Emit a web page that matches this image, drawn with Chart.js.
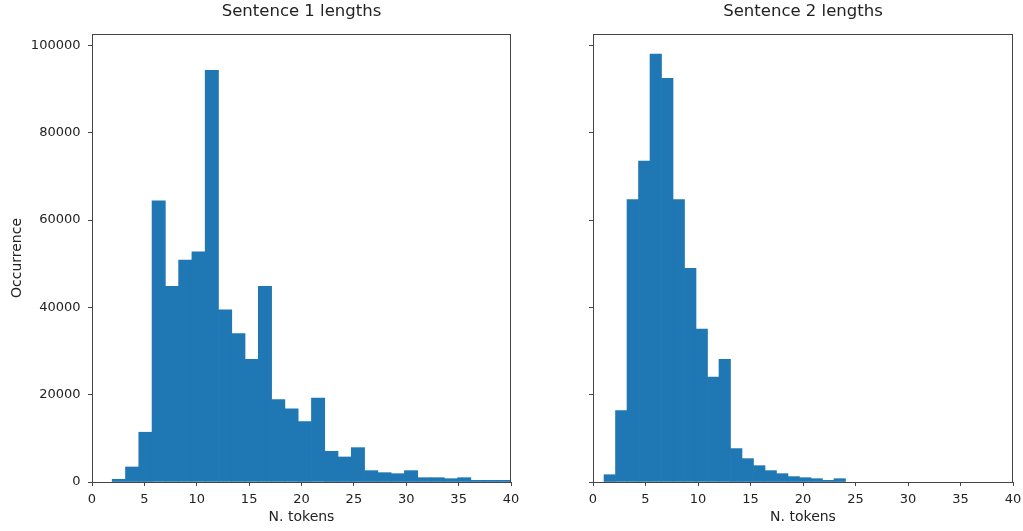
<!DOCTYPE html>
<html>
<head>
<meta charset="utf-8">
<script src="https://cdn.jsdelivr.net/npm/chart.js@4.4.1/dist/chart.umd.min.js"></script>
<style>
  body { margin: 0; background: #fff; }
  #wrap { position: relative; width: 1023px; height: 531px; }
  canvas { position: absolute; top: 0; }
</style>
</head>
<body>
<div id="wrap">
  <canvas id="sentence1" width="520" height="531" style="left:0"></canvas>
  <canvas id="sentence2" width="503" height="531" style="left:520px"></canvas>
</div>
<script>
// histogram bins
const sentence1BinStart = 1.93;
const sentence1BinWidth = 1.268;
const sentence1Counts = [
  620, 3440, 11400, 64400, 44800, 50800, 52700, 94300, 39450, 34000,
  28070, 44800, 18900, 16750, 13840, 19200, 7030, 5730, 7870, 2600,
  2140, 1910, 2600, 990, 990, 760, 990, 380, 380, 380,
];

const sentence2BinStart = 1.05;
const sentence2BinWidth = 1.095;
const sentence2Counts = [
  1670, 16370, 64700, 73500, 98000, 92450, 64700, 48950, 35020, 24010,
  28070, 7650, 5350, 3740, 2600, 1910, 1230, 990, 760, 380, 760,
];

const xTicks = [0, 5, 10, 15, 20, 25, 30, 35, 40];
const yTicks = [0, 20000, 40000, 60000, 80000, 100000];
const yMax = 102600;

const FONT = "'DejaVu Sans', sans-serif";
const TEXT = "#222";
const SPINE = "#444";
const BAR = "#1f77b4";

function toBins(start, width, counts) {
  return counts.map((count, i) => ({ x: start + width * (i + 0.5), y: count }));
}

// matplotlib draws a box round the axes, chart.js only the axis lines
const framePlugin = {
  id: "frame",
  afterDraw(chart) {
    const { ctx, chartArea: a } = chart;
    ctx.save();
    ctx.strokeStyle = SPINE;
    ctx.lineWidth = 1;
    ctx.strokeRect(a.left + 0.5, a.top + 0.5, a.right - a.left - 1, a.bottom - a.top);
    ctx.restore();
  },
};

function buildChart(canvas, title, bins, opts) {
  return new Chart(canvas, {
    type: "bar",
    data: {
      datasets: [
        {
          data: bins,
          backgroundColor: BAR,
          borderWidth: 0,
          barPercentage: 1,
          categoryPercentage: 1,
        },
      ],
    },
    options: {
      responsive: false,
      animation: false,
      devicePixelRatio: 1,
      layout: { padding: { left: 0, right: opts.padRight, top: 0, bottom: 0 } },
      plugins: {
        legend: { display: false },
        tooltip: { enabled: false },
        title: {
          display: true,
          text: title,
          fullSize: false,
          color: TEXT,
          font: { family: FONT, size: 16.5, weight: "normal" },
          padding: { top: 2, bottom: 12.2 },
        },
      },
      scales: {
        x: {
          type: "linear",
          min: xTicks[0],
          max: xTicks[xTicks.length - 1],
          offset: false,
          afterBuildTicks: (scale) => {
            scale.ticks = xTicks.map((value) => ({ value }));
          },
          afterFit: (scale) => {
            scale.height = 49;
            // keep the plot edges fixed, labels may hang over
            scale.paddingLeft = 0;
            scale.paddingRight = 0;
          },
          grid: {
            display: true,
            offset: false,
            drawOnChartArea: false,
            drawTicks: true,
            tickLength: 4,
            color: SPINE,
          },
          border: { display: false },
          ticks: {
            padding: 5.5,
            color: TEXT,
            maxRotation: 0,
            autoSkip: false,
            font: { family: FONT, size: 13 },
            callback: (v) => String(v),
          },
          title: {
            display: true,
            text: "N. tokens",
            color: TEXT,
            font: { family: FONT, size: 14 },
            padding: { top: 0, bottom: 5 },
          },
        },
        y: {
          min: 0,
          max: yMax,
          afterBuildTicks: (scale) => {
            scale.ticks = yTicks.map((value) => ({ value }));
          },
          afterFit: (scale) => {
            scale.width = opts.yWidth;
            scale.paddingTop = 0;
            scale.paddingBottom = 0;
          },
          grid: {
            display: true,
            drawOnChartArea: false,
            drawTicks: true,
            tickLength: 4,
            color: SPINE,
          },
          border: { display: false },
          ticks: {
            padding: 7.5,
            autoSkip: false,
            color: opts.showYLabels ? TEXT : "rgba(0,0,0,0)",
            font: { family: FONT, size: 13 },
            callback: (v) => String(v),
          },
          title: {
            display: opts.showYLabels,
            text: "Occurrence",
            color: TEXT,
            font: { family: FONT, size: 14 },
            padding: { top: 9.1, bottom: 0 },
          },
        },
      },
    },
    plugins: [framePlugin],
  });
}

buildChart(
  document.getElementById("sentence1"),
  "Sentence 1 lengths",
  toBins(sentence1BinStart, sentence1BinWidth, sentence1Counts),
  { yWidth: 92, padRight: 9, showYLabels: true },
);

buildChart(
  document.getElementById("sentence2"),
  "Sentence 2 lengths",
  toBins(sentence2BinStart, sentence2BinWidth, sentence2Counts),
  { yWidth: 73, padRight: 10, showYLabels: false },
);
</script>
</body>
</html>
